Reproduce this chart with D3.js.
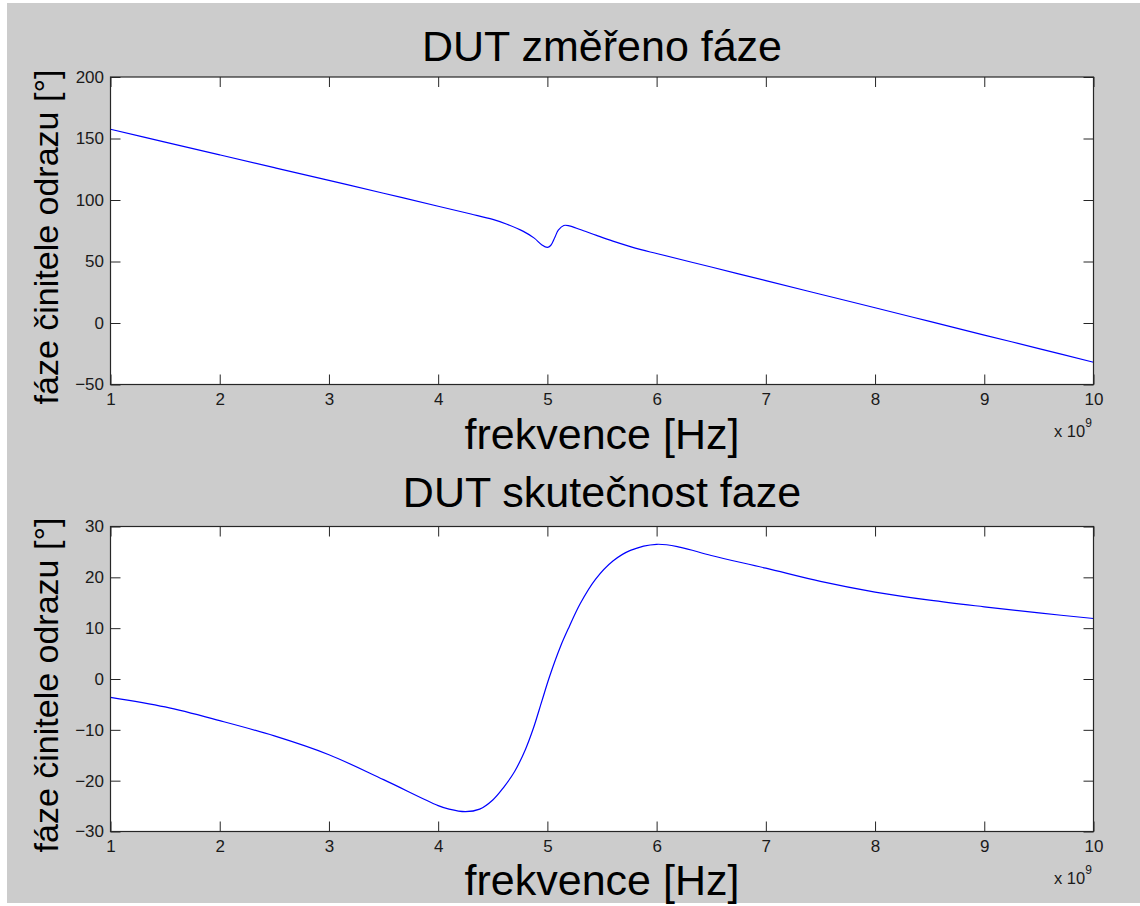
<!DOCTYPE html>
<html>
<head>
<meta charset="utf-8">
<script src="https://cdn.jsdelivr.net/npm/d3@7"></script>
<style>
  html, body { margin: 0; padding: 0; background: #ffffff; }
  svg { display: block; }
  text { font-family: "Liberation Sans", Arial, Helvetica, sans-serif; }
</style>
</head>
<body>
<div id="chart"></div>
<script>
// Frequency axis (in units of 1e9 Hz)
const xTicks = [1, 2, 3, 4, 5, 6, 7, 8, 9, 10];

// Measured reflection-coefficient phase [deg]
const freqMeasured = [1.0, 1.5, 2.0, 2.5, 3.0, 3.5, 4.0, 4.3, 4.5, 4.63, 4.78, 4.88, 4.95, 5.0, 5.03, 5.07, 5.1, 5.15, 5.2, 5.3, 5.45, 5.6, 5.857, 6.0, 6.5, 7.0, 7.5, 8.0, 8.5, 9.0, 9.5, 10.0];
const phaseMeasured = [157.5, 147.1, 136.7, 126.3, 115.9, 105.5, 94.9, 88.6, 84.2, 80.3, 74.5, 69.0, 63.5, 61.5, 63.0, 70.0, 75.5, 79.3, 79.0, 76.0, 71.2, 66.6, 59.6, 56.5, 45.5, 34.4, 23.4, 12.4, 1.3, -9.8, -20.8, -31.9];
const yTicksMeasured = [-50, 0, 50, 100, 150, 200];

// Actual DUT phase [deg]
const freqActual = [1.0, 1.5, 2.0, 2.5, 3.0, 3.5, 4.0, 4.1, 4.25, 4.38, 4.5, 4.6, 4.7, 4.8, 4.87, 4.95, 5.02, 5.12, 5.2, 5.3, 5.44, 5.6, 5.76, 6.0, 6.22, 6.5, 7.0, 7.5, 8.0, 8.5, 9.0, 9.5, 10.0];
const phaseActual = [-3.6, -5.5, -8.2, -11.2, -14.9, -19.8, -24.9, -25.6, -26.1, -25.6, -23.8, -21.3, -18.2, -13.8, -9.8, -4.3, 0.5, 6.4, 10.3, 14.8, 19.6, 23.2, 25.3, 26.5, 25.9, 24.3, 21.8, 19.2, 17.1, 15.5, 14.2, 13.0, 11.9];
const yTicksActual = [-30, -20, -10, 0, 10, 20, 30];

const titles = ["DUT změřeno fáze", "DUT skutečnost faze"];
const xLabel = "frekvence [Hz]";
const yLabel = "fáze činitele odrazu [°]";
const xExponent = "9";

const W = 1140, H = 906;
const svg = d3.select("#chart").append("svg")
  .attr("width", W).attr("height", H);

// figure background
svg.append("rect").attr("x", 7).attr("y", 3)
  .attr("width", W - 7).attr("height", H - 6).attr("fill", "#cccccc");

const panels = [
  { title: titles[0], xs: freqMeasured, ys: phaseMeasured, yTicks: yTicksMeasured,
    yDomain: [-50, 200], top: 77, bottom: 384.5, titleY: 61, xLabelY: 449, yLabelY: 237 },
  { title: titles[1], xs: freqActual, ys: phaseActual, yTicks: yTicksActual,
    yDomain: [-30, 30], top: 526.5, bottom: 831.5, titleY: 507, xLabelY: 895, yLabelY: 685 }
];

const left = 110.5, right = 1093.5;

panels.forEach(p => {
  const x = d3.scaleLinear().domain([1, 10]).range([left, right]);
  const y = d3.scaleLinear().domain(p.yDomain).range([p.bottom, p.top]);
  const g = svg.append("g");

  g.append("rect").attr("x", left).attr("y", p.top)
    .attr("width", right - left).attr("height", p.bottom - p.top)
    .attr("fill", "#ffffff");

  const line = d3.line()
    .x((d, i) => x(p.xs[i]))
    .y(d => y(d))
    .curve(d3.curveCatmullRom.alpha(0.5));

  g.append("path").datum(p.ys)
    .attr("d", line)
    .attr("fill", "none")
    .attr("stroke", "#0000ff")
    .attr("stroke-width", 1.2);

  const styleAxis = sel => {
    sel.select(".domain").remove();
    sel.selectAll(".tick line").attr("stroke", "#262626").attr("stroke-width", 1);
    sel.selectAll(".tick text").attr("fill", "#1a1a1a")
      .style("font-size", "17px");
  };

  g.append("g").attr("transform", `translate(0,${p.bottom})`)
    .call(d3.axisBottom(x).tickValues(xTicks).tickSize(-10).tickPadding(8).tickFormat(d3.format("d")))
    .call(styleAxis);
  g.append("g").attr("transform", `translate(0,${p.top})`)
    .call(d3.axisTop(x).tickValues(xTicks).tickSize(-10).tickFormat(""))
    .call(styleAxis);
  g.append("g").attr("transform", `translate(${left},0)`)
    .call(d3.axisLeft(y).tickValues(p.yTicks).tickSize(-10).tickPadding(6.5).tickFormat(d3.format("d")))
    .call(styleAxis);
  g.append("g").attr("transform", `translate(${right},0)`)
    .call(d3.axisRight(y).tickValues(p.yTicks).tickSize(-10).tickFormat(""))
    .call(styleAxis);

  // axes box
  g.append("rect").attr("x", left).attr("y", p.top)
    .attr("width", right - left).attr("height", p.bottom - p.top)
    .attr("fill", "none").attr("stroke", "#262626").attr("stroke-width", 1.2);

  // x10^9 multiplier
  const mult = g.append("text").attr("x", 1054).attr("y", p.bottom + 52)
    .attr("fill", "#1a1a1a").style("font-size", "16.5px");
  mult.append("tspan").text("x 10");
  mult.append("tspan").attr("dy", -10).style("font-size", "12px").text(xExponent);

  g.append("text").attr("x", (left + right) / 2).attr("y", p.titleY)
    .attr("text-anchor", "middle").style("font-size", "43px").attr("fill", "#000")
    .text(p.title);

  g.append("text").attr("x", (left + right) / 2).attr("y", p.xLabelY)
    .attr("text-anchor", "middle").style("font-size", "43px").attr("fill", "#000")
    .text(xLabel);

  g.append("text")
    .attr("transform", `translate(58,${p.yLabelY}) rotate(-90)`)
    .attr("text-anchor", "middle").style("font-size", "34px").attr("fill", "#000")
    .text(yLabel);
});
</script>
</body>
</html>
